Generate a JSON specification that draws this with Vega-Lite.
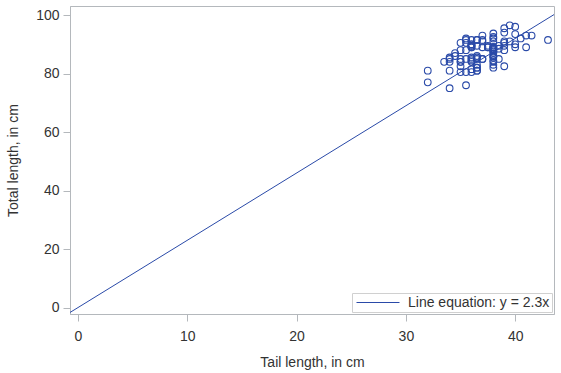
{
  "$schema": "https://vega.github.io/schema/vega-lite/v6.json",
  "autosize": "none",
  "width": 484,
  "height": 308,
  "padding": {"left": 70, "top": 6, "right": 7, "bottom": 59},
  "background": "white",
  "config": {
    "font": "Liberation Sans",
    "view": {"stroke": "#b4b8bc", "strokeWidth": 1},
    "axis": {
      "domainColor": "#b4b8bc",
      "tickColor": "#b4b8bc",
      "tickSize": 7,
      "grid": false,
      "labelFont": "Liberation Sans",
      "labelFontSize": 14,
      "labelColor": "#333333",
      "titleFont": "Liberation Sans",
      "titleFontSize": 14,
      "titleFontWeight": "normal",
      "titleColor": "#333333",
      "labelPadding": 4
    }
  },
  "datasets": {
    "possum": [
      {"tail": 36, "total": 89}, {"tail": 36.5, "total": 91.5}, {"tail": 39, "total": 95.5}, {"tail": 38, "total": 92},
      {"tail": 36, "total": 85.5}, {"tail": 35.5, "total": 90.5}, {"tail": 36, "total": 89.5}, {"tail": 37, "total": 91},
      {"tail": 37, "total": 91.5}, {"tail": 37.5, "total": 89.5}, {"tail": 39, "total": 89.5}, {"tail": 35.5, "total": 92},
      {"tail": 36, "total": 89.5}, {"tail": 36, "total": 91.5}, {"tail": 34, "total": 85.5}, {"tail": 34.5, "total": 86},
      {"tail": 36.5, "total": 89.5}, {"tail": 36, "total": 90}, {"tail": 35, "total": 90.5}, {"tail": 38, "total": 89},
      {"tail": 39.5, "total": 96.5}, {"tail": 39.5, "total": 91}, {"tail": 36, "total": 89}, {"tail": 34, "total": 84},
      {"tail": 35.5, "total": 91.5}, {"tail": 36, "total": 90}, {"tail": 35, "total": 85}, {"tail": 34.5, "total": 87},
      {"tail": 35.5, "total": 88}, {"tail": 33.5, "total": 84}, {"tail": 37, "total": 93}, {"tail": 39, "total": 94},
      {"tail": 37, "total": 89}, {"tail": 36.5, "total": 85.5}, {"tail": 35.5, "total": 85}, {"tail": 35, "total": 88},
      {"tail": 35, "total": 82.5}, {"tail": 35.5, "total": 80.5}, {"tail": 34, "total": 75}, {"tail": 36, "total": 84.5},
      {"tail": 36.5, "total": 83}, {"tail": 32, "total": 77}, {"tail": 32, "total": 81}, {"tail": 35.5, "total": 76},
      {"tail": 34, "total": 81}, {"tail": 35, "total": 84}, {"tail": 37.5, "total": 89}, {"tail": 34, "total": 85},
      {"tail": 37, "total": 85}, {"tail": 38, "total": 88}, {"tail": 36, "total": 85}, {"tail": 40, "total": 93.5},
      {"tail": 38, "total": 91}, {"tail": 36.5, "total": 91.5}, {"tail": 38, "total": 92.5}, {"tail": 38, "total": 93.7},
      {"tail": 41, "total": 93}, {"tail": 39, "total": 91}, {"tail": 40, "total": 96}, {"tail": 39, "total": 88},
      {"tail": 38, "total": 86}, {"tail": 39, "total": 90.5}, {"tail": 38, "total": 88.5}, {"tail": 38.5, "total": 89.5},
      {"tail": 38.5, "total": 88.5}, {"tail": 36.5, "total": 86}, {"tail": 36.5, "total": 85}, {"tail": 38, "total": 88.5},
      {"tail": 38, "total": 88}, {"tail": 38, "total": 87}, {"tail": 40, "total": 90}, {"tail": 35, "total": 80.5},
      {"tail": 36.5, "total": 82}, {"tail": 38, "total": 83}, {"tail": 38, "total": 89}, {"tail": 40, "total": 89},
      {"tail": 36, "total": 84}, {"tail": 36.5, "total": 81}, {"tail": 36.5, "total": 81}, {"tail": 38, "total": 84},
      {"tail": 38, "total": 85.5}, {"tail": 36.5, "total": 82}, {"tail": 36, "total": 81.5}, {"tail": 36, "total": 80.5},
      {"tail": 40.5, "total": 92}, {"tail": 38, "total": 86}, {"tail": 41.5, "total": 93}, {"tail": 38, "total": 87.5},
      {"tail": 35, "total": 84}, {"tail": 38.5, "total": 85}, {"tail": 38, "total": 89}, {"tail": 37, "total": 85},
      {"tail": 38, "total": 82}, {"tail": 39, "total": 82.5}, {"tail": 41, "total": 89}, {"tail": 43, "total": 91.5},
      {"tail": 37.5, "total": 89}, {"tail": 38, "total": 84.5}
    ],
    "fit": [
      {"tail": -1, "total": -2.3, "label": "Line equation: y = 2.3x"},
      {"tail": 44, "total": 101.2, "label": "Line equation: y = 2.3x"}
    ]
  },
  "layer": [
    {
      "data": {"name": "fit"},
      "mark": {"type": "line", "clip": true, "strokeWidth": 1},
      "encoding": {
        "x": {"field": "tail", "type": "quantitative"},
        "y": {"field": "total", "type": "quantitative"},
        "color": {
          "field": "label",
          "type": "nominal",
          "scale": {"range": ["#2a4aa8"]},
          "legend": {
            "title": null,
            "orient": "bottom-right",
            "offset": 2,
            "direction": "horizontal",
            "symbolType": "M-3.07,0H3.07",
            "symbolSize": 196,
            "symbolOffset": 16.5,
            "symbolStrokeWidth": 1,
            "labelFont": "Liberation Sans",
            "labelFontSize": 14,
            "labelColor": "#333333",
            "labelOffset": 22.5,
            "strokeColor": "#d0d0d0",
            "fillColor": "white",
            "padding": 2
          }
        }
      }
    },
    {
      "data": {"name": "possum"},
      "mark": {"type": "point", "shape": "circle", "filled": false, "size": 45, "strokeWidth": 1.1, "color": "#2a4aa8", "opacity": 1},
      "encoding": {
        "x": {
          "field": "tail",
          "type": "quantitative",
          "title": "Tail length, in cm",
          "scale": {"domain": [-0.73, 43.55], "nice": false, "zero": false},
          "axis": {"values": [0, 10, 20, 30, 40], "labelPadding": 8, "titlePadding": 12}
        },
        "y": {
          "field": "total",
          "type": "quantitative",
          "title": "Total length, in cm",
          "scale": {"domain": [-2.2, 103.1], "nice": false, "zero": false},
          "axis": {"values": [0, 20, 40, 60, 80, 100], "titlePadding": 15}
        }
      }
    }
  ]
}
